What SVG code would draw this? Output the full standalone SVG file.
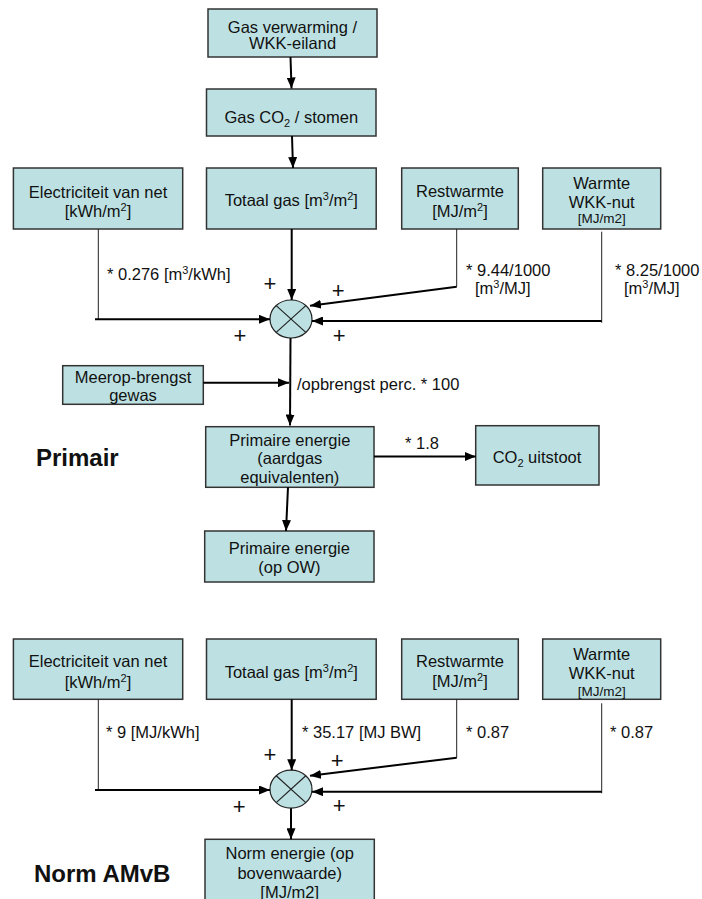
<svg xmlns="http://www.w3.org/2000/svg" width="702" height="899" viewBox="0 0 702 899">
<style>
.box{fill:#bde1e3;stroke:#333;stroke-width:1.5}
.t{font-family:"Liberation Sans",Arial,sans-serif;font-size:16.5px;fill:#111}
.c{text-anchor:middle}
.s{font-size:13.5px}
.h{font-family:"Liberation Sans",Arial,sans-serif;font-size:24px;font-weight:bold;fill:#111}
.p{font-family:"Liberation Sans",Arial,sans-serif;font-size:22px;fill:#111;text-anchor:middle}
.thin{fill:none;stroke:#222;stroke-width:1}
.arr{fill:none;stroke:#000;stroke-width:2;marker-end:url(#ah)}
.sum{fill:#bde1e3;stroke:#222;stroke-width:1.2}
.x{stroke:#222;stroke-width:1.2}
</style>
<defs>
<marker id="ah" markerUnits="userSpaceOnUse" markerWidth="11" markerHeight="9" refX="11" refY="4.5" orient="auto">
<path d="M0,0 L11,4.5 L0,9 z" fill="#000"/>
</marker>
</defs>

<g id="n-gasverwarming"><rect class="box" x="208" y="9" width="169" height="48"/>
<text class="t c" x="292.5" y="32.5">Gas verwarming /</text>
<text class="t c" x="292.5" y="49">WKK-eiland</text></g>

<g id="n-gasco2"><rect class="box" x="206.5" y="89" width="169.5" height="47"/>
<text class="t c" x="291.3" y="122.7">Gas CO<tspan font-size="11" dy="4">2</tspan><tspan dy="-4"> /  stomen</tspan></text></g>

<g id="n-elec1"><rect class="box" x="13.4" y="168" width="169.3" height="61"/>
<text class="t c" x="98" y="198">Electriciteit van net</text>
<text class="t c" x="98" y="217">[kWh/m<tspan font-size="11" dy="-6">2</tspan><tspan dy="6">]</tspan></text></g>

<g id="n-gas1"><rect class="box" x="206.5" y="168" width="169.7" height="61"/>
<text class="t c" x="291.3" y="206">Totaal gas [m<tspan font-size="11" dy="-6">3</tspan><tspan dy="6">/m</tspan><tspan font-size="11" dy="-6">2</tspan><tspan dy="6">]</tspan></text></g>

<g id="n-rest1"><rect class="box" x="401.7" y="168" width="116.6" height="61"/>
<text class="t c" x="460" y="197">Restwarmte</text>
<text class="t c" x="460" y="217">[MJ/m<tspan font-size="11" dy="-6">2</tspan><tspan dy="6">]</tspan></text></g>

<g id="n-wkk1"><rect class="box" x="542.7" y="168" width="118" height="61"/>
<text class="t c" x="601.7" y="189">Warmte</text>
<text class="t c" x="601.7" y="208">WKK-nut</text>
<text class="t c s" x="601.7" y="223">[MJ/m2]</text></g>

<g id="n-sum1"><ellipse class="sum" cx="291" cy="319" rx="21" ry="19"/>
<line class="x" x1="276.2" y1="305.6" x2="305.8" y2="332.4"/>
<line class="x" x1="305.8" y1="305.6" x2="276.2" y2="332.4"/></g>

<g id="n-meerop"><rect class="box" x="62.7" y="365.7" width="140.6" height="38.6"/>
<text class="t c" x="133" y="382.7">Meerop-brengst</text>
<text class="t c" x="133" y="401">gewas</text></g>

<g id="n-primaire"><rect class="box" x="205.7" y="426.7" width="168.3" height="60.6"/>
<text class="t c" x="289.8" y="446">Primaire energie</text>
<text class="t c" x="289.8" y="464.3">(aardgas</text>
<text class="t c" x="289.8" y="482.7">equivalenten)</text></g>

<g id="n-co2"><rect class="box" x="475.7" y="425.7" width="123.3" height="59.3"/>
<text class="t c" x="537" y="462.7">CO<tspan font-size="11" dy="4">2</tspan><tspan dy="-4"> uitstoot</tspan></text></g>

<g id="n-primow"><rect class="box" x="204.7" y="531" width="169.3" height="51"/>
<text class="t c" x="289.4" y="554">Primaire energie</text>
<text class="t c" x="289.4" y="573">(op OW)</text></g>

<g id="n-elec2"><rect class="box" x="13.4" y="639" width="169.3" height="60.3"/>
<text class="t c" x="98" y="667">Electriciteit van net</text>
<text class="t c" x="98" y="688">[kWh/m<tspan font-size="11" dy="-6">2</tspan><tspan dy="6">]</tspan></text></g>

<g id="n-gas2"><rect class="box" x="206.5" y="639" width="169.7" height="60.3"/>
<text class="t c" x="291.3" y="677.7">Totaal gas [m<tspan font-size="11" dy="-6">3</tspan><tspan dy="6">/m</tspan><tspan font-size="11" dy="-6">2</tspan><tspan dy="6">]</tspan></text></g>

<g id="n-rest2"><rect class="box" x="401.7" y="639" width="116.6" height="60.3"/>
<text class="t c" x="460" y="667">Restwarmte</text>
<text class="t c" x="460" y="687">[MJ/m<tspan font-size="11" dy="-6">2</tspan><tspan dy="6">]</tspan></text></g>

<g id="n-wkk2"><rect class="box" x="542.7" y="639" width="118" height="60.3"/>
<text class="t c" x="601.7" y="660">Warmte</text>
<text class="t c" x="601.7" y="679.3">WKK-nut</text>
<text class="t c s" x="601.7" y="696">[MJ/m2]</text></g>

<g id="n-sum2"><ellipse class="sum" cx="291" cy="789.2" rx="21" ry="19"/>
<line class="x" x1="276.2" y1="775.8" x2="305.8" y2="802.6"/>
<line class="x" x1="305.8" y1="775.8" x2="276.2" y2="802.6"/></g>

<g id="n-norm"><rect class="box" x="205" y="839.3" width="169.3" height="70"/>
<text class="t c" x="289.7" y="859.3">Norm energie (op</text>
<text class="t c" x="289.7" y="879.3">bovenwaarde)</text>
<text class="t c" x="289.7" y="897.7">[MJ/m2]</text></g>

<g id="connectors">
<line class="arr" x1="290.5" y1="57" x2="291.5" y2="88.5"/>
<line class="arr" x1="292" y1="136" x2="293" y2="168"/>
<line class="thin" x1="98.3" y1="229" x2="98.3" y2="319.5"/>
<line class="arr" x1="95" y1="319.3" x2="270" y2="319.3"/>
<line class="arr" x1="291.7" y1="229" x2="291.7" y2="300"/>
<polyline class="thin" points="456.7,229 456.7,286.7"/>
<line class="arr" x1="456.7" y1="286.7" x2="310" y2="305.7"/>
<line class="thin" x1="601.7" y1="231.7" x2="601.7" y2="322.7"/>
<line class="arr" x1="601.7" y1="321" x2="312" y2="321"/>
<line class="arr" x1="290.5" y1="338" x2="290" y2="425.5"/>
<line class="arr" x1="203.3" y1="382.7" x2="289" y2="382.7"/>
<line class="arr" x1="374" y1="456.5" x2="475.7" y2="456.5"/>
<line class="arr" x1="288" y1="487.3" x2="286" y2="531"/>
<line class="thin" x1="98.3" y1="699.3" x2="98.3" y2="790.2"/>
<line class="arr" x1="95" y1="790" x2="270" y2="790"/>
<line class="arr" x1="291.7" y1="699.3" x2="291.7" y2="770.2"/>
<line class="thin" x1="456.7" y1="699.3" x2="456.7" y2="757.7"/>
<line class="arr" x1="456.7" y1="757.7" x2="310" y2="775.7"/>
<line class="thin" x1="601.7" y1="703.3" x2="601.7" y2="793.3"/>
<line class="arr" x1="601.7" y1="791.7" x2="312" y2="791.7"/>
<line class="arr" x1="291" y1="808.2" x2="291" y2="839.3"/>
</g>

<g id="labels">
<text class="t" x="107" y="280">* 0.276 [m<tspan font-size="11" dy="-6">3</tspan><tspan dy="6">/kWh]</tspan></text>
<text class="t" x="466" y="276">* 9.44/1000</text>
<text class="t" x="475" y="294">[m<tspan font-size="11" dy="-6">3</tspan><tspan dy="6">/MJ]</tspan></text>
<text class="t" x="615" y="276">* 8.25/1000</text>
<text class="t" x="624" y="294">[m<tspan font-size="11" dy="-6">3</tspan><tspan dy="6">/MJ]</tspan></text>
<text class="t" x="297" y="390">/opbrengst perc. * 100</text>
<text class="t" x="405" y="449">* 1.8</text>
<text class="t" x="106" y="737.7">* 9 [MJ/kWh]</text>
<text class="t" x="302" y="737.7">* 35.17 [MJ BW]</text>
<text class="t" x="466" y="737.7">* 0.87</text>
<text class="t" x="610" y="737.7">* 0.87</text>
<text class="p" x="270" y="291">+</text>
<text class="p" x="338.3" y="298">+</text>
<text class="p" x="240" y="343">+</text>
<text class="p" x="339.3" y="343">+</text>
<text class="p" x="270" y="762">+</text>
<text class="p" x="337.3" y="768">+</text>
<text class="p" x="239.3" y="814">+</text>
<text class="p" x="339.3" y="813">+</text>
<text class="h" x="36" y="466">Primair</text>
<text class="h" x="34" y="881.5">Norm AMvB</text>
</g>
</svg>
